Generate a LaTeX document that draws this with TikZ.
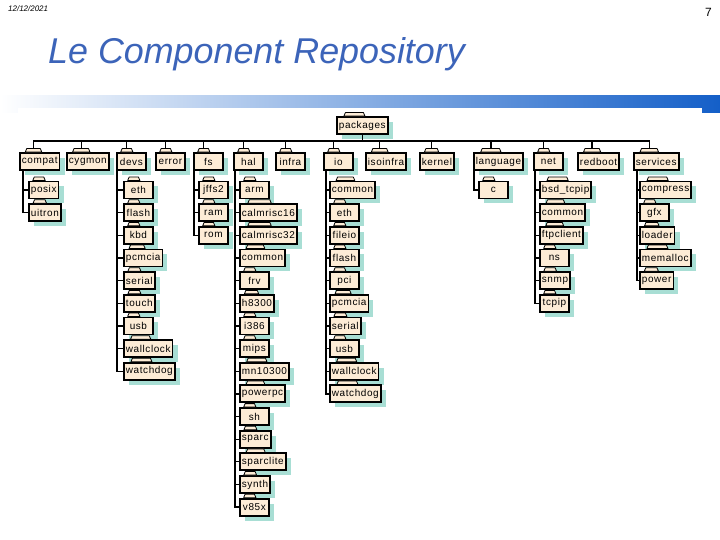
\documentclass[tikz,border=0pt]{standalone}
\usepackage{fontspec}
\setmainfont{Liberation Sans}
\newfontfamily\boxfont[LetterSpace=6]{Liberation Sans}
\usetikzlibrary{calc,shadows}

\definecolor{folderfill}{RGB}{253,236,214}
\definecolor{foldershadow}{RGB}{168,222,212}
\definecolor{titleblue}{RGB}{60,100,185}
\definecolor{barmid}{RGB}{170,180,225}
\definecolor{barblue}{RGB}{20,95,200}

\tikzset{
  folder/.style={draw, line width=1.8bp, fill=folderfill, anchor=west,
    minimum width=29bp, minimum height=17bp, inner xsep=2bp, inner ysep=0pt,
    font=\boxfont\fontsize{10}{10}\selectfont,
    drop shadow={shadow xshift=5bp, shadow yshift=-5bp, fill=foldershadow, opacity=1}},
  foldertab/.style={draw, line width=0.8bp, fill=folderfill, line join=round},
  link/.style={line width=1.3bp}
}

% folder: name, x, y, label
\newcommand\folder[4]{%
  \node[folder] (#1) at (#2,#3) {#4};
  \draw[foldertab] ($(#1.north west)!0.15!(#1.north east)$) -- ++(1.5bp,3.5bp)
    -- ($(#1.north west)!0.55!(#1.north east)+(-1.5bp,3.5bp)$)
    -- ($(#1.north west)!0.55!(#1.north east)$) -- cycle;
  \coordinate (#1-tab) at ($(#1.north west)!0.35!(#1.north east)+(0,3.5bp)$);
}
% kids: parent, line shift, x of the children, labels
\newcommand\kids[4]{%
  \foreach \lbl [count=\i] in {#4} {
    \pgfmathsetmacro\yy{190+22.65*(\i-1)}
    \folder{#1-\i}{#3}{\yy}{\lbl}
    \draw[link] ([xshift=#2]#1.south west) |- (#1-\i.west);
  }
}

\begin{document}
\begin{tikzpicture}[x=1bp,y=-1bp]
\useasboundingbox (0,0) rectangle (720,540);
\shade[left color=white, middle color=barmid, right color=barblue] (0,96) rectangle (720,113);
\fill[white] (18,108) rectangle (702,540);

\node[anchor=west, inner sep=0pt, font=\fontsize{8}{9}\selectfont\itshape] (date) at (8,9) {12/12/2021};
\node[anchor=east, inner sep=0pt, font=\fontsize{12}{13}\selectfont] (page) at (712,12) {7};
\node[anchor=base west, inner sep=0pt, text=titleblue, font=\fontsize{36}{40}\selectfont\itshape] (title) at (48,64) {Le Component Repository};

\folder{packages}{336}{125.5}{packages}
\folder{compat}{19}{161.5}{compat}
\folder{cygmon}{66}{161.5}{cygmon}
\folder{devs}{116}{161.5}{devs}
\folder{error}{155}{161.5}{error}
\folder{fs}{193}{161.5}{fs}
\folder{hal}{233}{161.5}{hal}
\folder{infra}{275}{161.5}{infra}
\folder{io}{323}{161.5}{io}
\folder{isoinfra}{365}{161.5}{isoinfra}
\folder{kernel}{419}{161.5}{kernel}
\folder{language}{473}{161.5}{language}
\folder{net}{533}{161.5}{net}
\folder{redboot}{577}{161.5}{redboot}
\folder{services}{633}{161.5}{services}

\coordinate (hub) at (packages.south |- 0,141);
\draw[link] (packages.south) -- (hub);
\foreach \n in {compat,cygmon,devs,error,fs,hal,infra,io,isoinfra,kernel,language,net,redboot,services}
  \draw[link] (hub) -| (\n-tab);

\kids{compat}{4bp}{28}{posix,uitron}
\kids{devs}{1bp}{123}{eth,flash,kbd,pcmcia,serial,touch,usb,wallclock,watchdog}
\kids{fs}{1bp}{198}{jffs2,ram,rom}
\kids{hal}{2bp}{239}{arm,calmrisc16,calmrisc32,common,frv,h8300,i386,mips,mn10300,powerpc,sh,sparc,sparclite,synth,v85x}
\kids{io}{3bp}{329}{common,eth,fileio,flash,pci,pcmcia,serial,usb,wallclock,watchdog}
\kids{language}{1bp}{478}{c}
\kids{net}{2bp}{539}{bsd\_tcpip,common,ftpclient,ns,snmp,tcpip}
\kids{services}{4bp}{639}{compress,gfx,loader,memalloc,power}
\end{tikzpicture}
\end{document}
